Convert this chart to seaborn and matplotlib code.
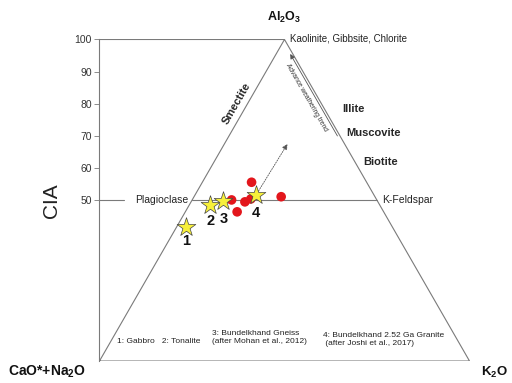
import matplotlib
matplotlib.use("Agg")
import matplotlib.pyplot as plt
import seaborn as sns
import numpy as np
import pandas as pd

# ---- data (ternary A-CN-K, in %) ----
star_labels = ["1", "2", "3", "4"]
star_A = [41.7, 48.5, 49.9, 51.6]
star_K = [2.55, 5.65, 8.55, 16.4]
circle_A = [50.1, 46.4, 49.5, 50.4, 55.6, 51.1]
circle_K = [10.65, 14.0, 14.55, 15.7, 13.3, 23.55]
yticks = [50, 60, 70, 80, 90, 100]

def tern_xy(A, K):
    A = np.asarray(A, float)
    K = np.asarray(K, float)
    return K + A / 2.0, A

sx, sy = tern_xy(star_A, star_K)
cx, cy = tern_xy(circle_A, circle_K)
stars = pd.DataFrame({"x": sx, "y": sy, "label": star_labels})
circles = pd.DataFrame({"x": cx, "y": cy})

sns.set_theme(style="white")
plt.rcParams['font.family'] = ['Liberation Sans', 'DejaVu Sans']
plt.rcParams['mathtext.default'] = 'regular'

fig = plt.figure(figsize=(5.12, 3.83), dpi=100)
ax = fig.add_axes([0.1943, 0.0574, 0.917 - 0.1943, 0.8969 - 0.0574])
ax.set_xlim(0, 100)
ax.set_ylim(0, 100)

lc = "#7a7a7a"
lw = 0.8
# triangle
ax.plot([0, 50, 100, 0], [0, 100, 0, 0], color=lc, lw=lw, solid_joinstyle="miter", zorder=1)
ax.plot([0, 50], [100, 100], color=lc, lw=lw, zorder=1)
# 50 line
ax.plot([0, 6.6], [50, 50], color=lc, lw=lw, zorder=1)
ax.plot([25, 75], [50, 50], color=lc, lw=lw, zorder=1)

# dotted trend arrow
ax.annotate("", xy=(50.8, 67.5), xytext=(42.3, 51.6),
            arrowprops=dict(arrowstyle="-|>", linestyle=(0, (1.5, 1.5)), color="#555555",
                            lw=0.6, mutation_scale=8, shrinkA=0, shrinkB=0), zorder=2)
ax.annotate("", xy=(100 - 95.5 / 2 - 0.7, 95.5), xytext=(100 - 70 / 2 - 0.7, 70),
            arrowprops=dict(arrowstyle="-|>", color="#555555", lw=0.6,
                            mutation_scale=7, shrinkA=0, shrinkB=0), zorder=2)
ax.text(100 - 82 / 2 - 3.2, 82, "Advance weathering trend", fontsize=4.8, rotation=-60,
        rotation_mode="anchor", ha="center", va="center", color="#333333")

sns.scatterplot(data=circles, x="x", y="y", ax=ax, color="#e3161c", s=48,
                edgecolor="none", linewidth=0, zorder=3, legend=False)
sns.scatterplot(data=stars, x="x", y="y", ax=ax, marker="*", color="#f7f03a", s=200,
                edgecolor="#444444", linewidth=0.5, zorder=4, legend=False)

offsets = [-14, -16, -18, -18]
for (x, y, lab), off in zip(zip(sx, sy, star_labels), offsets):
    ax.annotate(lab, (x, y), xytext=(0, off * 0.72), textcoords="offset points",
                ha="center", va="center", fontsize=10.5, fontweight="bold", color="#111111")

# axes styling
for s in ["top", "right", "bottom"]:
    ax.spines[s].set_visible(False)
ax.spines["left"].set_color(lc)
ax.spines["left"].set_linewidth(lw)
ax.set_xticks([])
ax.set_yticks(yticks)
ax.set_yticklabels([str(t) for t in yticks])
ax.tick_params(axis="y", direction="out", length=3.5, width=0.6, color=lc,
               labelsize=7.5, labelcolor="#333333", pad=2, left=True)
ax.set_xlabel("")
ax.set_ylabel("CIA", fontsize=15, color="#222222", labelpad=10)

# labels
ax.text(50, 107, "Al$_2$O$_3$", fontsize=9, fontweight="bold", ha="center", va="center",
        color="#111111")
ax.text(51.5, 100.3, "Kaolinite, Gibbsite, Chlorite", fontsize=7, ha="left", va="center",
        color="#222222")
ax.text(65.5, 78.3, "Illite", fontsize=8, fontweight="bold", ha="left", va="center")
ax.text(66.8, 71.0, "Muscovite", fontsize=8, fontweight="bold", ha="left", va="center")
ax.text(71.2, 62.0, "Biotite", fontsize=8, fontweight="bold", ha="left", va="center")
ax.text(24.0, 50, "Plagioclase", fontsize=7.5, ha="right", va="center", color="#222222")
ax.text(76.5, 50, "K-Feldspar", fontsize=7.5, ha="left", va="center", color="#222222")
ax.text(37.2, 80.2, "Smectite", fontsize=8, fontweight="bold", rotation=60,
        ha="center", va="center", rotation_mode="anchor")

ax.text(4.8, 6.1, "1: Gabbro   2: Tonalite", fontsize=6, ha="left", va="center", color="#222222")
ax.text(30.5, 7.3, "3: Bundelkhand Gneiss\n(after Mohan et al., 2012)", fontsize=6,
        ha="left", va="center", color="#222222", linespacing=1.2)
ax.text(60.5, 6.6, "4: Bundelkhand 2.52 Ga Granite\n (after Joshi et al., 2017)", fontsize=6,
        ha="left", va="center", color="#222222", linespacing=1.2)

fig.text(8 / 512, 1 - 372 / 383, "CaO*+Na$_2$O", fontsize=10, fontweight="bold",
         ha="left", va="center", color="#111111")
fig.text(494 / 512, 1 - 372 / 383, "K$_2$O", fontsize=9.5, fontweight="bold",
         ha="center", va="center", color="#111111")

fig.savefig("out.png", dpi=100)
